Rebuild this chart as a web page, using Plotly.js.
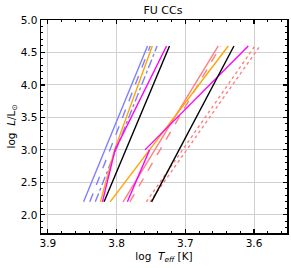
<!DOCTYPE html>
<html>
<head>
<meta charset="utf-8">
<script src="https://cdn.plot.ly/plotly-3.0.1.min.js"></script>
<style>html,body{margin:0;padding:0;background:#fff;}#chart{width:291px;height:268px;}</style>
</head>
<body>
<div id="chart"></div>
<script>
// Luminosity levels (log L/Lsun) of the line end points
const lumEdge = [2.2, 4.6];
const lumOrangeBlue = [2.2, 3.0, 4.6];
const lumLow = [2.2, 3.0];
const lumHigh = [3.0, 4.6];

// Blue edges (log Teff)
const blueSolidT   = [3.848, 3.755];
const blueDashedT  = [3.839, 3.751];
const blueDashDotT = [3.831, 3.741];
const orangeBlueT  = [3.8235, 3.803, 3.748];
const magentaBlueLowT  = [3.8206, 3.8022];
const magentaBlueHighT = [3.8022, 3.7273];
const blackBlueT   = [3.8182, 3.723];

// Red edges (log Teff)
const orangeRedT   = [3.8094, 3.6375];
const pinkSolidT   = [3.7906, 3.652];
const pinkDashedT  = [3.7808, 3.6485];
const magentaRedLowT  = [3.7843, 3.752];
const magentaRedHighT = [3.7586, 3.6084];
const pinkDotT1    = [3.7567, 3.5987];
const pinkDotT2    = [3.7513, 3.5914];
const blackRedT    = [3.7491, 3.6292];

const xTicks = [3.9, 3.8, 3.7, 3.6];
const yTicks = [2.0, 2.5, 3.0, 3.5, 4.0, 4.5, 5.0];

const BLUE = '#7f7fff', PINK = '#ff8080', ORANGE = '#ffa500', MAGENTA = '#ff00ff', BLACK = '#000000';

function tr(x, y, color, dash) {
  return {x: x, y: y, type: 'scatter', mode: 'lines', showlegend: false, hoverinfo: 'skip',
          line: {color: color, width: 1.4, dash: dash || 'solid'}};
}

const data = [
  tr(blueSolidT, lumEdge, BLUE),
  tr(blueDashedT, lumEdge, BLUE, 'dash'),
  tr(blueDashDotT, lumEdge, BLUE, 'dashdot'),
  tr(pinkSolidT, lumEdge, PINK),
  tr(pinkDashedT, lumEdge, PINK, 'dash'),
  tr(pinkDotT1, lumEdge, PINK, 'dot'),
  tr(pinkDotT2, lumEdge, PINK, 'dot'),
  tr(orangeBlueT, lumOrangeBlue, ORANGE),
  tr(orangeRedT, lumEdge, ORANGE),
  tr(magentaBlueLowT, lumLow, MAGENTA),
  tr(magentaBlueHighT, lumHigh, MAGENTA),
  tr(magentaRedLowT, lumLow, MAGENTA),
  tr(magentaRedHighT, lumHigh, MAGENTA),
  tr(blackBlueT, lumEdge, BLACK),
  tr(blackRedT, lumEdge, BLACK)
];

const font = {family: 'DejaVu Sans', size: 10, color: '#000'};

const layout = {
  width: 291, height: 268,
  margin: {l: 41, r: 4, t: 20, b: 35, pad: 0},
  paper_bgcolor: '#fff', plot_bgcolor: '#fff',
  font: font,
  title: {text: 'FU CCs', font: {family: 'DejaVu Sans', size: 11, color: '#000'}, x: 0.56, xanchor: 'center', y: 0.963, yanchor: 'middle'},
  xaxis: {
    range: [3.91, 3.552], tickvals: xTicks, ticktext: xTicks.map(v => v.toFixed(1)),
    ticks: 'inside', ticklen: 4, tickwidth: 1.2, tickcolor: '#000',
    minor: {dtick: 0.02, tick0: 3.9, ticks: 'inside', ticklen: 2, tickwidth: 1, tickcolor: '#000', showgrid: false},
    showline: true, linecolor: '#000', linewidth: 1.5, mirror: 'allticks',
    showgrid: true, gridcolor: '#d0d0d0', gridwidth: 1, zeroline: false,
    tickfont: {family: 'DejaVu Sans', size: 10.5, color: '#000'},
    title: {text: 'log  <i>T<sub>eff</sub></i> [K]', font: {family: 'DejaVu Sans', size: 10.5, color: '#000'}, standoff: 4}
  },
  yaxis: {
    range: [1.72, 5.0], tickvals: yTicks, ticktext: yTicks.map(v => v.toFixed(1)),
    ticks: 'inside', ticklen: 4, tickwidth: 1.2, tickcolor: '#000',
    minor: {dtick: 0.1, tick0: 2.0, ticks: 'inside', ticklen: 2, tickwidth: 1, tickcolor: '#000', showgrid: false},
    showline: true, linecolor: '#000', linewidth: 1.5, mirror: 'allticks',
    showgrid: true, gridcolor: '#d0d0d0', gridwidth: 1, zeroline: false,
    tickfont: {family: 'DejaVu Sans', size: 10.5, color: '#000'},
    title: {text: 'log  <i>L</i>/L<sub>⊙</sub>', font: {family: 'DejaVu Sans', size: 10.5, color: '#000'}, standoff: 3}
  }
};

Plotly.newPlot('chart', data, layout, {staticPlot: true, displayModeBar: false});
</script>
</body>
</html>
